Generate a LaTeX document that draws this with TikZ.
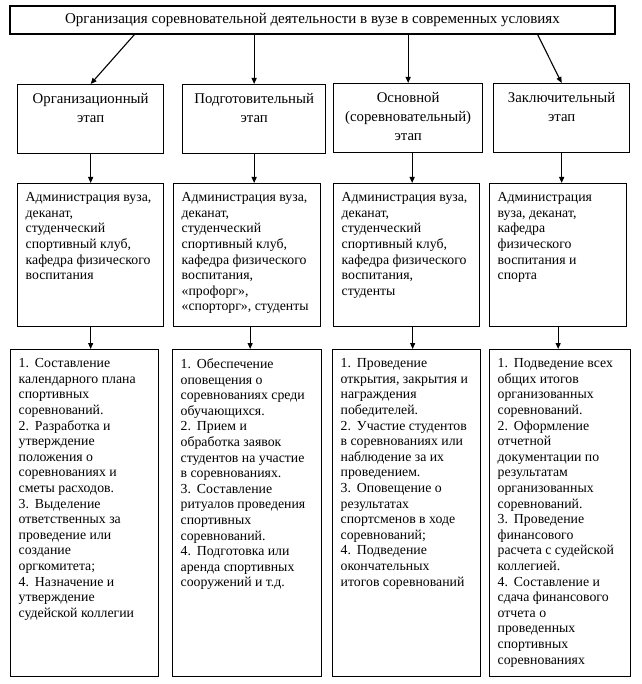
\documentclass[tikz,border=0pt]{standalone}
\usepackage{fontspec}
\setmainfont{Liberation Serif}
\usetikzlibrary{arrows.meta}
% top-aligned text block of fixed size: width, height, text
\newcommand{\cell}[3]{\parbox[t][#2pt][t]{#1pt}{#3}}

\begin{document}
\begin{tikzpicture}[x=1pt,y=-1pt,
  box/.style={draw, line width=1.3pt, anchor=north west, inner xsep=8pt, inner ysep=9pt},
  head/.style={box, font=\fontsize{14.8}{19}\selectfont},
  body/.style={box, font=\fontsize{13.8}{15.6}\selectfont},
  arr/.style={-{Triangle[length=6pt,width=5pt]}, line width=1.1pt}]
\useasboundingbox (0,0) rectangle (641,684);
% title
\node [draw, line width=1.3pt, minimum width=605pt, minimum height=28pt,
  inner sep=0pt, font=\fontsize{15}{18}\selectfont] (title) at (312.5,20)
  {Организация соревновательной деятельности в вузе в современных условиях};
% stages
\node [head] (st1) at (17,84) {\cell{130}{51}{\centering Организационный\\ этап}};
\node [head] (st2) at (182,84) {\cell{127}{51}{\centering Подготовительный\\ этап}};
\node [head] (st3) at (333,83) {\cell{133}{51}{\centering Основной\\ (соревновательный)\\ этап}};
\node [head] (st4) at (493,83) {\cell{120}{51}{\centering Заключительный\\ этап}};
% participants
\node [body] (who1) at (17,183) {\cell{130}{125}{\raggedright Администрация вуза,\\ деканат,\\ студенческий\\ спортивный клуб,\\ кафедра физического\\ воспитания}};
\node [body] (who2) at (173,183) {\cell{131}{125}{\raggedright Администрация вуза,\\ деканат,\\ студенческий\\ спортивный клуб,\\ кафедра физического\\ воспитания,\\ «профорг»,\\ «спорторг», студенты}};
\node [body] (who3) at (333,183) {\cell{130}{125}{\raggedright Администрация вуза,\\ деканат,\\ студенческий\\ спортивный клуб,\\ кафедра физического\\ воспитания,\\ студенты}};
\node [body] (who4) at (489,183) {\cell{121}{125}{\raggedright Администрация\\ вуза, деканат,\\ кафедра\\ физического\\ воспитания и\\ спорта}};
% tasks
\node [body] (task1) at (10,349) {\cell{132}{309}{\raggedright 1.\hspace{6pt}Составление\\ календарного плана\\ спортивных\\ соревнований.\\ 2.\hspace{6pt}Разработка и\\ утверждение\\ положения о\\ соревнованиях и\\ сметы расходов.\\ 3.\hspace{6pt}Выделение\\ ответственных за\\ проведение или\\ создание\\ оргкомитета;\\ 4.\hspace{6pt}Назначение и\\ утверждение\\ судейской коллегии}};
\node [body] (task2) at (172,349) {\cell{133}{309}{\raggedright 1.\hspace{6pt}Обеспечение\\ оповещения о\\ соревнованиях среди\\ обучающихся.\\ 2.\hspace{6pt}Прием и\\ обработка заявок\\ студентов на участие\\ в соревнованиях.\\ 3.\hspace{6pt}Составление\\ ритуалов проведения\\ спортивных\\ соревнований.\\ 4.\hspace{6pt}Подготовка или\\ аренда спортивных\\ сооружений и т.д.}};
\node [body] (task3) at (332,349) {\cell{132}{309}{\raggedright 1.\hspace{6pt}Проведение\\ открытия, закрытия и\\ награждения\\ победителей.\\ 2.\hspace{6pt}Участие студентов\\ в соревнованиях или\\ наблюдение за их\\ проведением.\\ 3.\hspace{6pt}Оповещение о\\ результатах\\ спортсменов в ходе\\ соревнований;\\ 4.\hspace{6pt}Подведение\\ окончательных\\ итогов соревнований}};
\node [body] (task4) at (489,349) {\cell{125}{309}{\raggedright 1.\hspace{6pt}Подведение всех\\ общих итогов\\ организованных\\ соревнований.\\ 2.\hspace{6pt}Оформление\\ отчетной\\ документации по\\ результатам\\ организованных\\ соревнований.\\ 3.\hspace{6pt}Проведение\\ финансового\\ расчета с судейской\\ коллегией.\\ 4.\hspace{6pt}Составление и\\ сдача финансового\\ отчета о\\ проведенных\\ спортивных\\ соревнованиях}};
% arrows
\draw [arr] ([xshift=125pt]title.south west) -- (st1.north);
\draw [arr] (title.south -| st2.north) -- (st2.north);
\draw [arr] (title.south -| st3.north) -- (st3.north);
\draw [arr] ([xshift=-78pt]title.south east) -- (st4.north);
\draw [arr] (st1.south) -- (st1.south |- who1.north);
\draw [arr] (st2.south) -- (st2.south |- who2.north);
\draw [arr] ([xshift=4pt]st3.south) -- ([xshift=4pt]st3.south |- who3.north);
\draw [arr] (st4.south) -- (st4.south |- who4.north);
\draw [arr] (who1.south) -- (who1.south |- task1.north);
\draw [arr] ([xshift=3pt]who2.south) -- ([xshift=3pt]who2.south |- task2.north);
\draw [arr] ([xshift=6pt]who3.south) -- ([xshift=6pt]who3.south |- task3.north);
\draw [arr] (who4.south) -- (who4.south |- task4.north);
\end{tikzpicture}
\end{document}
